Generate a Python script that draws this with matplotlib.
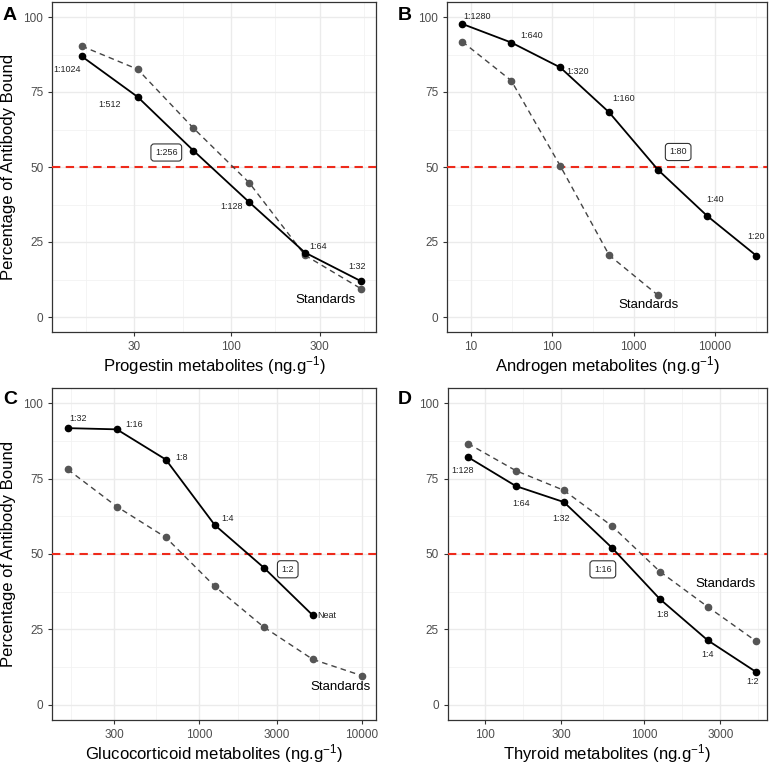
import matplotlib
matplotlib.use('Agg')
import matplotlib.pyplot as plt

plt.rcParams['font.family'] = ['Liberation Sans', 'DejaVu Sans']
plt.rcParams['mathtext.fontset'] = 'custom'
plt.rcParams['mathtext.rm'] = 'Liberation Sans'
plt.rcParams['mathtext.default'] = 'regular'

# ---- data ----
# A: progestin
prog_x = [15.625, 31.25, 62.5, 125, 250, 500]
prog_sample = [86.9, 73.4, 55.5, 38.3, 21.5, 12.0]
prog_std = [90.3, 82.6, 63.0, 44.8, 20.6, 9.5]
prog_labels = ['1:1024', '1:512', '1:256', '1:128', '1:64', '1:32']

# B: androgen
andr_x = [7.8125, 31.25, 125, 500, 2000, 8000, 32000]
andr_sample = [97.7, 91.5, 83.2, 68.2, 49.0, 33.7, 20.5]
andr_std_x = [7.8125, 31.25, 125, 500, 2000]
andr_std = [91.8, 78.8, 50.4, 20.6, 7.2]
andr_labels = ['1:1280', '1:640', '1:320', '1:160', '1:80', '1:40', '1:20']

# C: glucocorticoid
gluc_x = [156.25, 312.5, 625, 1250, 2500, 5000]
gluc_sample = [91.7, 91.3, 81.3, 59.6, 45.5, 29.7]
gluc_std_x = [156.25, 312.5, 625, 1250, 2500, 5000, 10000]
gluc_std = [78.0, 65.7, 55.5, 39.3, 25.8, 15.1, 9.7]
gluc_labels = ['1:32', '1:16', '1:8', '1:4', '1:2', 'Neat']

# D: thyroid
thyr_x = [78.125, 156.25, 312.5, 625, 1250, 2500, 5000]
thyr_sample = [82.1, 72.5, 67.2, 52.1, 35.1, 21.4, 11.0]
thyr_std = [86.6, 77.6, 71.1, 59.3, 44.2, 32.5, 21.2]
thyr_labels = ['1:128', '1:64', '1:32', '1:16', '1:8', '1:4', '1:2']

W, H = 773, 767
fig = plt.figure(figsize=(W / 100, H / 100), dpi=100)
PX = 0.72  # points per pixel


def make_ax(l, r, t, b):
    return fig.add_axes([l / W, 1 - b / H, (r - l) / W, (b - t) / H])


def style_ax(ax, xlim, xticks, xlabel, ylabel):
    ax.set_xscale('log')
    ax.set_xlim(*xlim)
    ax.set_ylim(-5, 105)
    ax.set_yticks([0, 25, 50, 75, 100])
    ax.set_xticks(xticks)
    ax.set_xticklabels([str(v) for v in xticks])
    ax.minorticks_off()
    # ggplot-like minor grid: midpoints between major breaks in log space
    lo, hi = xlim
    mids = []
    full = [xticks[0] / (xticks[1] / xticks[0])] + list(xticks) + [xticks[-1] * (xticks[-1] / xticks[-2])]
    for a, c in zip(full[:-1], full[1:]):
        m = (a * c) ** 0.5
        if lo < m < hi:
            mids.append(m)
    for m in mids:
        ax.axvline(m, color='#f2f2f2', lw=0.6, zorder=0)
    for m in [12.5, 37.5, 62.5, 87.5]:
        ax.axhline(m, color='#f2f2f2', lw=0.6, zorder=0)
    ax.grid(True, which='major', color='#ebebeb', lw=1.0, zorder=0)
    ax.set_axisbelow(True)
    for s in ax.spines.values():
        s.set_color('#333333')
        s.set_linewidth(0.9)
    ax.tick_params(colors='#333333', labelcolor='#4d4d4d', labelsize=8.5, length=3, width=0.8)
    ax.set_xlabel(xlabel, fontsize=12, labelpad=1)
    if ylabel:
        ax.set_ylabel(ylabel, fontsize=12, labelpad=5)
    ax.axhline(50, color='#ee2a1b', lw=1.5, ls=(0, (4, 2.6)), zorder=3)


def draw(ax, sx, sy, stdx, stdy, labels, offs, boxed, std_off, std_idx):
    ax.plot(stdx, stdy, color='#444444', lw=1.0, ls=(0, (4, 3)), zorder=4)
    ax.plot(stdx, stdy, 'o', color='#555555', ms=4.5, zorder=5)
    ax.plot(sx, sy, color='black', lw=1.3, zorder=6)
    ax.plot(sx, sy, 'o', color='black', ms=4.5, zorder=7)
    for i, (x, y, lab) in enumerate(zip(sx, sy, labels)):
        dx, dy = offs[i]
        kw = {}
        if i == boxed:
            kw['bbox'] = dict(boxstyle='round,pad=0.45,rounding_size=0.35', fc='white',
                              ec='#333333', lw=0.8)
        ax.annotate(lab, (x, y), xytext=(dx * PX, -dy * PX), textcoords='offset points',
                    ha='center', va='center', fontsize=6.5, color='#222222', zorder=8, **kw)
    ax.annotate('Standards', (stdx[std_idx], stdy[std_idx]),
                xytext=(std_off[0] * PX, -std_off[1] * PX), textcoords='offset points',
                ha='center', va='center', fontsize=9.5, color='black', zorder=8)


ylab = 'Percentage of Antibody Bound'

axA = make_ax(52.3, 376, 2, 332)
style_ax(axA, (10.84, 605), [30, 100, 300], 'Progestin metabolites (ng.g$^{-1}$)', ylab)
draw(axA, prog_x, prog_sample, prog_x, prog_std, prog_labels,
     [(-14.7, 12.7), (-28, 8), (-27, 2), (-17.7, 4.3), (13.3, -6.3), (-3.7, -14.7)],
     2, (-35, 11.7), -1)

axB = make_ax(447.3, 766.7, 2, 332)
style_ax(axB, (5.12, 43150), [10, 100, 1000, 10000], 'Androgen metabolites (ng.g$^{-1}$)', None)
draw(axB, andr_x, andr_sample, andr_std_x, andr_std, andr_labels,
     [(15, -7), (20, -7.3), (17, 4), (14.7, -14), (20, -18), (8.3, -16), (0, -19)],
     4, (-10, 9.3), -1)

axC = make_ax(52.3, 375.7, 388, 720)
style_ax(axC, (125.4, 12190), [300, 1000, 3000, 10000], 'Glucocorticoid metabolites (ng.g$^{-1}$)', ylab)
draw(axC, gluc_x, gluc_sample, gluc_std_x, gluc_std, gluc_labels,
     [(10.3, -9.7), (17.7, -5.3), (15.3, -1.7), (13.3, -7), (24, 1.7), (14, 0)],
     4, (-20.7, 11), -1)

axD = make_ax(447.7, 766.7, 388, 720)
style_ax(axD, (58.3, 5860), [100, 300, 1000, 3000], 'Thyroid metabolites (ng.g$^{-1}$)', None)
draw(axD, thyr_x, thyr_sample, thyr_x, thyr_std, thyr_labels,
     [(-5.3, 13), (5.7, 17.3), (-2.3, 16), (-9, 21.7), (3, 16), (0, 13.7), (-2.7, 9.7)],
     3, (17.3, -22.7), 5)

for lab, (x, y) in zip(['A', 'B', 'C', 'D'], [(3, 15), (398, 15), (3, 399), (398, 399)]):
    fig.text(x / W, 1 - y / H, lab, fontsize=14, fontweight='bold', ha='left', va='center')

fig.savefig('out.png', dpi=100)
